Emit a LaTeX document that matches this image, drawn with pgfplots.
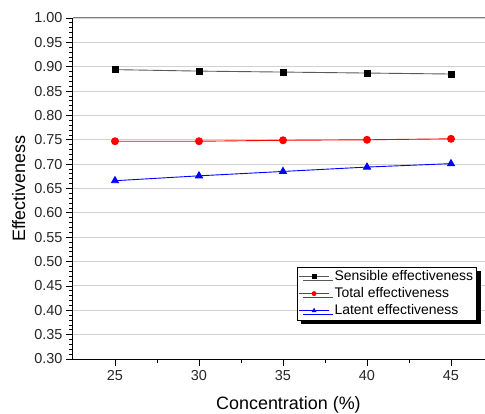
\documentclass[border=0pt]{standalone}
\usepackage{fontspec}
\setmainfont{Liberation Sans}
\usepackage{pgfplots}
\pgfplotsset{compat=1.18}
\usetikzlibrary{shadows}
\begin{document}
\begin{tikzpicture}
\begin{axis}[
  scale only axis, width=420bp, height=341bp,
  xmin=22.5, xmax=47.5, ymin=0.30, ymax=1.00,
  xtick={25,30,35,40,45}, minor x tick num=1,
  ytick={0.30,0.35,0.40,0.45,0.50,0.55,0.60,0.65,0.70,0.75,0.80,0.85,0.90,0.95,1.00},
  minor y tick num=4,
  tick align=outside,
  major tick length=7bp, minor tick length=4bp,
  ymajorgrids, grid style={black!18, line width=0.9bp},
  axis x line*=bottom, axis y line*=left,
  x axis line style={-, line width=1bp},
  y axis line style={-, line width=1bp},
  tick style={black, line width=0.8bp},
  /pgf/number format/assume math mode=true,
  yticklabel style={/pgf/number format/fixed, /pgf/number format/fixed zerofill, /pgf/number format/precision=2},
  tick label style={font=\fontsize{14.5}{16}\selectfont, text=black!85},
  xticklabel style={yshift=-1bp},
  xlabel={Concentration (\%)}, ylabel={Effectiveness},
  xlabel style={font=\fontsize{18}{20}\selectfont, at={(axis description cs:0.513,-0.135)}, anchor=center},
  ylabel style={font=\fontsize{18}{20}\selectfont, at={(axis description cs:-0.129,0.5)}, anchor=center},
  legend style={at={(axis description cs:0.533,0.27)}, anchor=north west, draw=black, line width=0.6bp,
    fill=white, font=\fontsize{14}{16}\selectfont, row sep=1.5bp, inner sep=1.5bp,
    /tikz/every odd column/.append style={column sep=3bp},
    drop shadow={shadow xshift=4bp, shadow yshift=-4bp, fill=black, opacity=1}},
  legend cell align=left,
  legend image code/.code={\draw[mark repeat=2, mark phase=2, mark size=2bp] plot coordinates {(0bp,0bp) (15bp,0bp) (30bp,0bp)};},
]
\addplot[black!65, line width=0.9bp, mark=square*, mark size=3bp, mark options={black, fill=black, solid}]
  coordinates {(25,0.894) (30,0.891) (35,0.889) (40,0.887) (45,0.885)};
\addlegendentry{Sensible effectiveness}
\addplot[red, line width=0.9bp, mark=*, mark size=3.5bp, mark options={red, fill=red, solid}]
  coordinates {(25,0.747) (30,0.747) (35,0.749) (40,0.750) (45,0.752)};
\addlegendentry{Total effectiveness}
\addplot[blue, line width=0.9bp, mark=triangle*, mark size=4bp, mark options={blue, fill=blue, solid}]
  coordinates {(25,0.666) (30,0.676) (35,0.685) (40,0.694) (45,0.701)};
\addlegendentry{Latent effectiveness}
\draw[black!50, line width=1bp] (rel axis cs:0,1) -- (rel axis cs:1,1);
\end{axis}
\pgfresetboundingbox
\path[use as bounding box] (-73bp,-55bp) rectangle (412bp,359bp);
\end{tikzpicture}
\end{document}
